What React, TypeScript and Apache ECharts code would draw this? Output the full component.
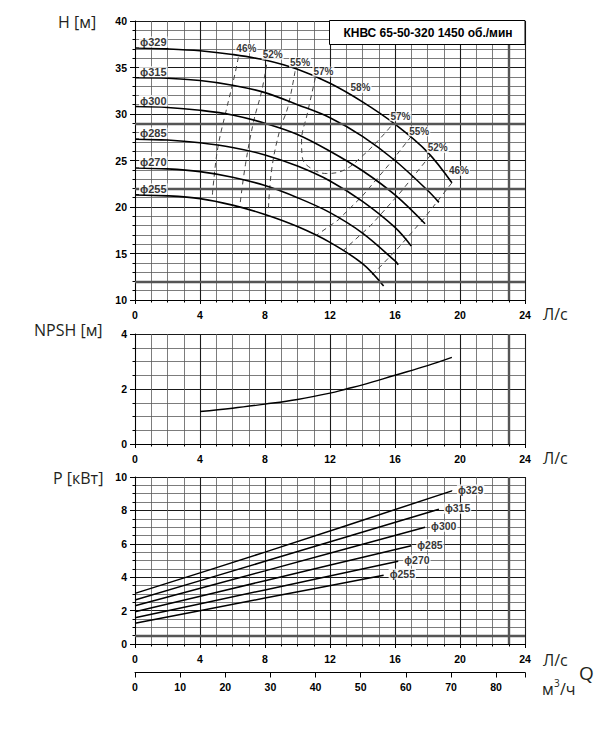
import React, { useEffect, useRef } from "react";
import * as echarts from "echarts";

// ---------- DATA ----------
const diameterNames = ["ϕ329", "ϕ315", "ϕ300", "ϕ285", "ϕ270", "ϕ255"];

// Head curves H(Q): [Q л/с, H м]
const head329 = [[0, 37.1], [2, 37.0], [4, 36.8], [6, 36.4], [8, 35.8], [10, 34.8], [12, 33.3], [14, 31.3], [16, 28.9], [18, 25.9], [19.5, 22.6]];
const head315 = [[0, 33.9], [2, 33.85], [4, 33.6], [6, 33.1], [8, 32.3], [10, 31.0], [12, 29.6], [14, 27.6], [16, 25.0], [18, 21.8], [18.7, 20.5]];
const head300 = [[0, 30.8], [2, 30.7], [4, 30.4], [6, 29.9], [8, 29.0], [10, 27.8], [12, 26.0], [14, 23.9], [16, 21.3], [17.85, 18.2]];
const head285 = [[0, 27.3], [2, 27.2], [4, 26.9], [6, 26.4], [8, 25.6], [10, 24.4], [12, 22.8], [14, 20.6], [16, 17.8], [17.0, 15.8]];
const head270 = [[0, 24.2], [2, 24.1], [4, 23.8], [6, 23.2], [8, 22.3], [10, 21.0], [12, 19.4], [14, 17.2], [16, 14.2], [16.2, 13.8]];
const head255 = [[0, 21.3], [2, 21.2], [4, 20.9], [6, 20.2], [8, 19.2], [10, 17.9], [12, 16.2], [14, 13.9], [15.3, 11.5]];

// Iso-efficiency curves [Q, H]
const eff46L = [[6.36, 36.1], [6.15, 34.3], [5.6, 30.3], [5.1, 26.4], [4.8, 22.1], [4.75, 20.9]];
const eff52L = [[8.1, 35.3], [7.8, 32.5], [7.3, 29.2], [6.8, 24.6], [6.45, 20.1]];
const eff55L = [[9.85, 34.6], [9.4, 30.7], [8.9, 28.2], [8.4, 23.9], [8.2, 19.4]];
const eff57 = [[11.1, 33.9], [10.6, 30.0], [10.25, 27.1], [10.3, 25.3], [10.8, 24.2], [11.8, 23.6], [12.9, 24.0], [14.0, 25.5], [15.1, 27.4], [15.9, 29.0]];
const eff55R = [[17.0, 27.6], [15.6, 24.5], [14.0, 21.2], [12.5, 18.6], [11.2, 17.0]];
const eff52R = [[18.2, 25.6], [16.3, 21.5], [14.5, 18.0], [12.8, 15.3]];
const eff46R = [[19.5, 22.6], [17.8, 18.8], [16.2, 15.6], [14.6, 12.7]];
const peakEff = [14, 31.3];

// NPSH(Q)
const npshQ = [4, 6, 8, 10, 12, 13, 14, 16, 18, 19.5];
const npshH = [1.18, 1.3, 1.45, 1.62, 1.85, 2.0, 2.15, 2.5, 2.85, 3.15];

// Power P(Q): [Q, кВт]
const pow329 = [[0, 3.03], [8, 5.5], [19.5, 9.17]];
const pow315 = [[0, 2.63], [8, 4.95], [18.7, 8.07]];
const pow300 = [[0, 2.29], [8, 4.38], [17.85, 6.99]];
const pow285 = [[0, 1.93], [8, 3.79], [17.0, 5.88]];
const pow270 = [[0, 1.57], [8, 3.24], [16.2, 4.96]];
const pow255 = [[0, 1.24], [8, 2.75], [15.3, 4.12]];

// heavier scan lines on the grid
const thickHeadLines = [29, 22, 12];
const thickPowerLines = [0.5];
const thickQLine = 23;

const titleText = "КНВС 65-50-320 1450 об./мин";

// ---------- STYLE ----------
const TICK_FONT = '"Liberation Sans", Arial, sans-serif';
const NAME_FONT = '"Open Sans", "Noto Sans", sans-serif';

const headCurves = [head329, head315, head300, head285, head270, head255];
const powCurves = [pow329, pow315, pow300, pow285, pow270, pow255];

const effCurves = [
  { d: eff46L, label: "46%", off: [8, -9], smooth: true },
  { d: eff52L, label: "52%", off: [6, -10], smooth: true },
  { d: eff55L, label: "55%", off: [5, -9], smooth: true },
  { d: eff57, label: "57%", off: [8, -6], smooth: true, end: true, endLabel: "57%", endOff: [7, -7] },
  { d: eff55R, label: "55%", off: [8, -5], smooth: false },
  { d: eff52R, label: "52%", off: [7, -7], smooth: false },
  { d: eff46R, label: "46%", off: [7, -12], smooth: false },
];

function xAxisL(gridIndex: number) {
  return {
    type: "value",
    gridIndex,
    min: 0,
    max: 24,
    interval: 4,
    axisLine: { show: true, onZero: false, lineStyle: { color: "#000", width: 1 } },
    axisTick: { show: true, length: 4, lineStyle: { color: "#000" } },
    minorTick: { show: true, splitNumber: 4, length: 2.5, lineStyle: { color: "#000" } },
    splitLine: { show: true, lineStyle: { color: "#1a1a1a", width: 1.1 } },
    minorSplitLine: { show: true, lineStyle: { color: "#5a5a5a", width: 0.8 } },
    axisLabel: { color: "#000", fontFamily: TICK_FONT, fontWeight: "bold", fontSize: 10.5, margin: 9 },
  };
}

function yAxisV(gridIndex: number, min: number, max: number, interval: number, minorSplit: number) {
  return {
    type: "value",
    gridIndex,
    min,
    max,
    interval,
    axisLine: { show: true, onZero: false, lineStyle: { color: "#000", width: 1 } },
    axisTick: { show: true, length: 5, lineStyle: { color: "#000" } },
    minorTick: { show: true, splitNumber: minorSplit, length: 2.5, lineStyle: { color: "#000" } },
    splitLine: { show: true, lineStyle: { color: "#1a1a1a", width: 1.1 } },
    minorSplitLine: { show: true, lineStyle: { color: "#5a5a5a", width: 0.8 } },
    axisLabel: { color: "#000", fontFamily: TICK_FONT, fontWeight: "bold", fontSize: 10.5, margin: 8 },
  };
}

const labelStyle = {
  color: "#000",
  fontFamily: TICK_FONT,
  fontWeight: "bold",
  fontSize: 10.5,
  backgroundColor: "#fff",
  padding: [0, 1],
};

function buildOption() {
  const series: any[] = [];
  const thick = { color: "#555", width: 2.4, type: "solid" };

  // heavier grid lines (under curves)
  series.push({
    type: "line", xAxisIndex: 0, yAxisIndex: 0, data: [], z: 1, silent: true,
    markLine: {
      silent: true, symbol: ["none", "none"], label: { show: false }, lineStyle: thick, animation: false,
      data: [...thickHeadLines.map((v) => ({ yAxis: v })), { xAxis: thickQLine }],
    },
  });
  series.push({
    type: "line", xAxisIndex: 1, yAxisIndex: 1, data: [], z: 1, silent: true,
    markLine: { silent: true, symbol: ["none", "none"], label: { show: false }, lineStyle: thick, animation: false, data: [{ xAxis: thickQLine }] },
  });
  series.push({
    type: "line", xAxisIndex: 2, yAxisIndex: 2, data: [], z: 1, silent: true,
    markLine: {
      silent: true, symbol: ["none", "none"], label: { show: false }, lineStyle: thick, animation: false,
      data: [...thickPowerLines.map((v) => ({ yAxis: v })), { xAxis: thickQLine }],
    },
  });

  // efficiency dashed curves
  effCurves.forEach((e) => {
    series.push({
      type: "line", xAxisIndex: 0, yAxisIndex: 0, data: e.d, smooth: e.smooth ? 0.4 : false,
      showSymbol: false, z: 2, silent: true,
      lineStyle: { color: "#444", width: 1, type: [5, 4] },
    });
  });

  // head curves
  headCurves.forEach((d) => {
    series.push({
      type: "line", xAxisIndex: 0, yAxisIndex: 0, data: d, smooth: 0.35, showSymbol: false, z: 3, silent: true,
      lineStyle: { color: "#000", width: 1.6 },
    });
  });

  // diameter labels (head)
  series.push({
    type: "scatter", xAxisIndex: 0, yAxisIndex: 0, symbolSize: 0, z: 6, silent: true,
    data: headCurves.map((d, i) => ({ value: d[0], label: { formatter: diameterNames[i] } })),
    label: { show: true, position: "right", distance: 4, offset: [0, -6], ...labelStyle, fontSize: 11 },
  });

  // efficiency labels
  const effLabelData: any[] = [];
  effCurves.forEach((e) => {
    effLabelData.push({ value: e.d[0], label: { formatter: e.label, offset: e.off } });
    if (e.end) effLabelData.push({ value: e.d[e.d.length - 1], label: { formatter: e.endLabel, offset: e.endOff } });
  });
  effLabelData.push({ value: peakEff, label: { formatter: "58%", offset: [-2, -14] } });
  series.push({
    type: "scatter", xAxisIndex: 0, yAxisIndex: 0, symbolSize: 0, z: 6, silent: true,
    data: effLabelData,
    label: { show: true, position: "inside", ...labelStyle, fontSize: 10 },
  });

  // NPSH
  series.push({
    type: "line", xAxisIndex: 1, yAxisIndex: 1, data: npshQ.map((q, i) => [q, npshH[i]]), smooth: 0.4,
    showSymbol: false, z: 3, silent: true, lineStyle: { color: "#000", width: 1.4 },
  });

  // Power
  powCurves.forEach((d) => {
    series.push({
      type: "line", xAxisIndex: 2, yAxisIndex: 2, data: d, smooth: 0.3, showSymbol: false, z: 3, silent: true,
      lineStyle: { color: "#000", width: 1.5 },
    });
  });
  series.push({
    type: "scatter", xAxisIndex: 2, yAxisIndex: 2, symbolSize: 0, z: 6, silent: true,
    data: powCurves.map((d, i) => ({ value: d[d.length - 1], label: { formatter: diameterNames[i] } })),
    label: { show: true, position: "right", distance: 5, offset: [0, -1], ...labelStyle, fontSize: 10.5 },
  });

  const nameText = (text: string, x: number, y: number, size = 16) => ({
    type: "text", z: 100, silent: true,
    style: { text, x, y, font: `${size}px ${NAME_FONT}`, fill: "#231f20", verticalAlign: "middle", textAlign: "left" },
  });

  return {
    animation: false,
    backgroundColor: "#fff",
    grid: [
      { left: 135, top: 21, width: 390, height: 279, containLabel: false },
      { left: 135, top: 334, width: 390, height: 110, containLabel: false },
      { left: 135, top: 477, width: 390, height: 167, containLabel: false },
    ],
    xAxis: [
      xAxisL(0),
      xAxisL(1),
      xAxisL(2),
      {
        type: "value", gridIndex: 2, position: "bottom", offset: 28.5, min: 0, max: 86.4, interval: 10,
        axisLine: { show: true, onZero: false, lineStyle: { color: "#000", width: 1 } },
        axisTick: { show: true, length: 5, lineStyle: { color: "#000" } },
        splitLine: { show: false },
        axisLabel: {
          color: "#000", fontFamily: TICK_FONT, fontWeight: "bold", fontSize: 10.5, margin: 9,
          formatter: (v: number) => (Math.abs(v % 10) < 1e-6 ? String(v) : ""),
        },
      },
    ],
    yAxis: [yAxisV(0, 10, 40, 5, 5), yAxisV(1, 0, 4, 2, 4), yAxisV(2, 0, 10, 2, 4)],
    series,
    graphic: [
      { type: "rect", z: 100, silent: true, shape: { x: 329.5, y: 20.5, width: 195.5, height: 24 }, style: { fill: "#fff", stroke: "#000", lineWidth: 1 } },
      {
        type: "text", z: 101, silent: true,
        style: { text: titleText, x: 428, y: 33, font: `bold 12px ${TICK_FONT}`, fill: "#000", textAlign: "center", verticalAlign: "middle" },
      },
      nameText("H [м]", 58, 22),
      nameText("NPSH [м]", 34, 330),
      nameText("P [кВт]", 53, 478),
      nameText("Л/с", 543, 314),
      nameText("Л/с", 543, 458),
      nameText("Л/с", 543, 660),
      nameText("Q", 579, 673, 19),
      {
        type: "group", z: 100, silent: true,
        children: [
          { type: "text", z: 100, style: { text: "м", x: 542, y: 689, font: `16px ${NAME_FONT}`, fill: "#231f20", verticalAlign: "middle" } },
          { type: "text", z: 100, style: { text: "3", x: 554, y: 683, font: `10px ${NAME_FONT}`, fill: "#231f20", verticalAlign: "middle" } },
          { type: "text", z: 100, style: { text: "/ч", x: 560, y: 689, font: `16px ${NAME_FONT}`, fill: "#231f20", verticalAlign: "middle" } },
        ],
      },
    ],
  };
}

export default function App() {
  const ref = useRef<HTMLDivElement>(null);
  useEffect(() => {
    if (!ref.current) return;
    const chart = echarts.init(ref.current, null, { renderer: "svg" });
    chart.setOption(buildOption() as any);
    return () => chart.dispose();
  }, []);
  return <div ref={ref} style={{ position: "absolute", left: 0, top: 0, width: 599, height: 755, background: "#fff" }} />;
}
